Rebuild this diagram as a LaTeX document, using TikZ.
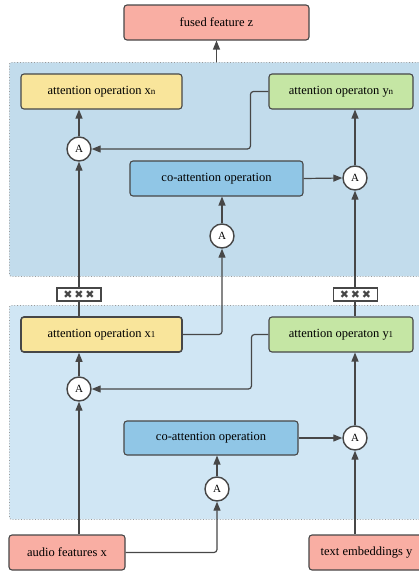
\documentclass[tikz,border=0pt]{standalone}
\usepackage{fontspec}
\setmainfont{Liberation Serif}
\newfontfamily\symfont{DejaVu Sans}
\usetikzlibrary{arrows.meta,calc}
\definecolor{lineg}{HTML}{474747}
\definecolor{panelA}{HTML}{C2DCEC}
\definecolor{panelB}{HTML}{D0E6F4}
\definecolor{pinkf}{HTML}{F9AEA3}
\definecolor{yellf}{HTML}{F9E59B}
\definecolor{greenf}{HTML}{C5E6A4}
\definecolor{bluef}{HTML}{90C6E6}
\tikzset{
  box/.style={draw=lineg, line width=1.1pt, rounded corners=3pt, minimum height=35pt, inner sep=0pt, font=\fontsize{12.5}{14}\selectfont},
  circA/.style={circle, draw=lineg, line width=1.4pt, fill=white, minimum size=24pt, inner sep=0pt, font=\fontsize{11}{12}\selectfont},
  panel/.style={draw=gray!80, dotted, line width=0.8pt, rounded corners=2pt, inner sep=0pt},
  conn/.style={draw=lineg, line width=1.2pt, rounded corners=3pt},
  arr/.style={conn, -{Triangle[length=9pt,width=7pt]}},
  xbox/.style={draw=lineg, line width=1.3pt, fill=white, minimum width=44pt, minimum height=13pt, inner sep=0pt, font=\symfont\fontsize{11}{11}\selectfont\color{lineg}}
}
\newcommand{\sub}[1]{\raisebox{-0.6pt}{\fontsize{9}{10}\selectfont #1}}
\begin{document}
\begin{tikzpicture}[x=1pt,y=-1pt]
\useasboundingbox (0,0) rectangle (419,571);
\clip (0,0) rectangle (419,571);
% panels
\node[panel, fill=panelA, minimum width=425pt, minimum height=214pt, anchor=north west] (panelT) at (9,62) {};
\node[panel, fill=panelB, minimum width=425pt, minimum height=214pt, anchor=north west] (panelB) at (9,305) {};
% boxes
\node[box, fill=pinkf, minimum width=185pt] (fused) at (216.5,22.5) {fused feature z};
\node[box, fill=yellf, minimum width=161pt] (xn) at (101.5,91.5) {attention operation x\sub{n}};
\node[box, fill=greenf, minimum width=144pt] (yn) at (341,91.5) {attention operaton y\sub{n}};
\node[box, fill=bluef, minimum width=173pt] (coT) at (216.5,178.5) {co-attention operation};
\node[box, fill=yellf, minimum width=161pt, line width=1.6pt] (x1) at (101.5,334.5) {attention operation x\sub{1}};
\node[box, fill=greenf, minimum width=144pt] (y1) at (341,334.5) {attention operaton y\sub{1}};
\node[box, fill=bluef, minimum width=174pt, minimum height=34pt] (coB) at (211,438) {co-attention operation};
\node[box, fill=pinkf, minimum width=116pt] (audio) at (67,552.5) {audio features x};
\node[box, fill=pinkf, minimum width=115pt] (text) at (366.5,552.5) {text embeddings y};
% circles
\node[circA] (cA1) at (79,149) {A};
\node[circA] (cA2) at (355,178) {A};
\node[circA] (cA3) at (222,236) {A};
\node[circA] (cA4) at (79,389) {A};
\node[circA] (cA5) at (355,438) {A};
\node[circA] (cA6) at (217,489) {A};
% xxx boxes
\node[xbox] (xxxL) at (79,294.5) {✖\,✖\,✖};
\node[xbox] (xxxR) at (355.5,294.5) {✖\,✖\,✖};
% connectors
\draw[arr] (panelT.north -| fused.south) -- (fused.south);
\draw[arr] (yn.west) -- ++(-18,0) |- (cA1.east);
\draw[arr] (cA1.north) -- (cA1.north |- xn.south);
\draw[arr] (coT.east) -- (cA2.west);
\draw[arr] (cA2.north) -- (cA2.north |- yn.south);
\draw[arr] (cA3.north) -- (cA3.north |- coT.south);
\draw[arr] (xxxL.north) -- (cA1.south);
\draw[arr] (xxxR.north -| cA2.south) -- (cA2.south);
\draw[conn] (xxxL.south) -- (xxxL.south |- x1.north);
\draw[conn] (xxxR.south -| cA2.south) -- (cA2.south |- y1.north);
\draw[arr] (x1.east) -| (cA3.south);
\draw[arr] (y1.west) -- ++(-17,0) |- (cA4.east);
\draw[arr] (cA4.north) -- (cA4.north |- x1.south);
\draw[arr] (coB.east) -- (cA5.west);
\draw[arr] (cA5.north) -- (cA5.north |- y1.south);
\draw[arr] (cA6.north) -- (cA6.north |- coB.south);
\draw[arr] (audio.east) -| (cA6.south);
\draw[arr] (cA4.south |- audio.north) -- (cA4.south);
\draw[arr] (cA5.south |- text.north) -- (cA5.south);
\end{tikzpicture}
\end{document}
